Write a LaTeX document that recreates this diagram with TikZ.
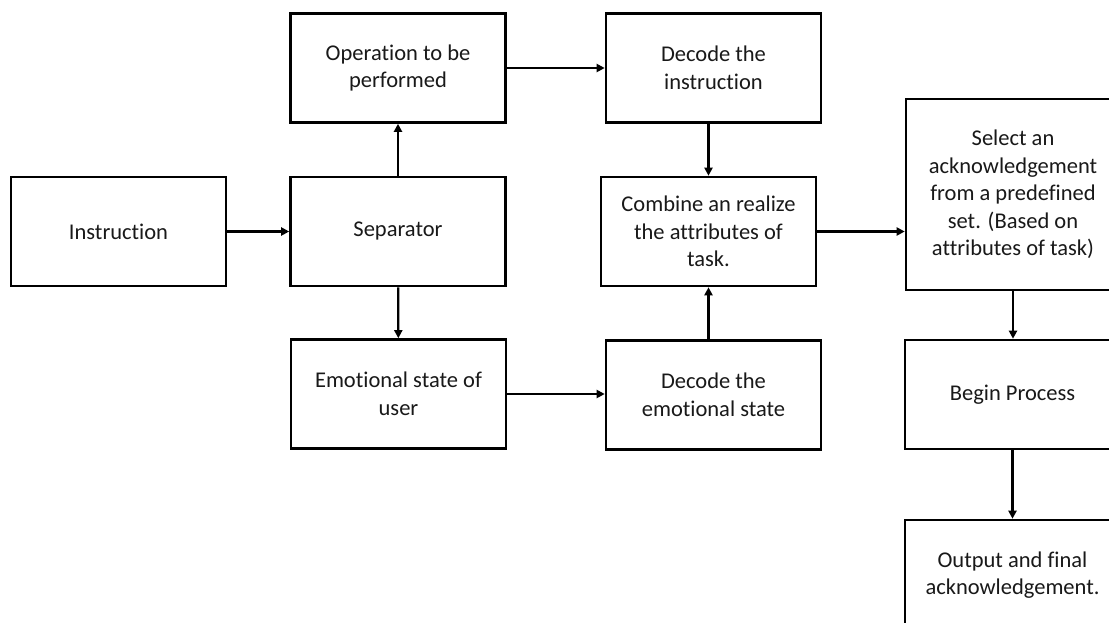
\documentclass[tikz,border=0pt]{standalone}
\usepackage{fontspec}
\setmainfont{Carlito}[Ligatures={NoCommon}]
\usetikzlibrary{arrows.meta}
\begin{document}
\begin{tikzpicture}[x=1pt,y=-1pt,
  box/.style={draw=black, line width=2.6pt, fill=white, align=center, inner sep=0pt,
    minimum width=215pt, minimum height=109pt,
    font=\fontsize{22.5}{27.5}\selectfont, text=black!90},
  conn/.style={line width=2.2pt, -{Triangle[length=8pt,width=8pt]}}]
\useasboundingbox (0,0) rectangle (1109,622);
\clip (0,0) rectangle (1109,622);
\node[box] (ins) at (118.5,231.5) {Instruction};
\node[box] (sep) at (398,231.5) {Separator};
\node[box] (op)  at (398,68) {Operation to be\\performed};
\node[box] (emo) at (398.5,394) {Emotional state of\\user};
\node[box] (dins) at (713.5,68) {Decode the\\instruction};
\node[box] (comb) at (708.5,231.5) {Combine an realize\\the attributes of\\task.};
\node[box] (demo) at (713.5,395) {Decode the\\emotional state};
\node[box, minimum width=214pt, minimum height=191pt] (sel) at (1013,194.5) {Select an\\acknowledgement\\from a predefined\\set. (Based on\\attributes of task)};
\node[box] (beg) at (1012.5,394.5) {Begin Process};
\node[box, minimum height=110pt] (out) at (1012.5,575) {Output and final\\acknowledgement.};
\draw[conn] (ins) -- (sep);
\draw[conn] (sep) -- (op);
\draw[conn] (sep) -- (emo);
\draw[conn] (op.east) -- (op.east -| dins.west);
\draw[conn] (emo.east) -- (emo.east -| demo.west);
\draw[conn] (dins.south -| comb.north) -- (comb.north);
\draw[conn] (demo.north -| comb.south) -- (comb.south);
\draw[conn] (comb.east) -- (comb.east -| sel.west);
\draw[conn] (sel.south) -- (sel.south |- beg.north);
\draw[conn] (beg.south) -- (beg.south |- out.north);
\end{tikzpicture}
\end{document}
